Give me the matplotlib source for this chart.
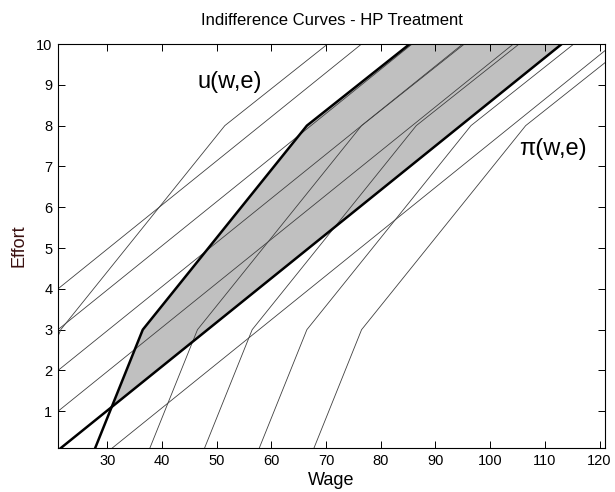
import numpy as np
import matplotlib
matplotlib.use("Agg")
import matplotlib.pyplot as plt

plt.rcParams['font.family'] = ['Liberation Sans', 'DejaVu Sans']

# Kinked indifference curves: wage = offset + cost(effort)
kink_effort = [0.1, 3.0, 8.0, 10.0]
kink_cost = [0.3, 9.0, 39.0, 57.8]
kinked_offsets_thin = [12.5, 37.5, 47.5, 57.5, 67.5]
kinked_offset_thick = 27.5

# Straight indifference curves: wage = intercept + slope * effort
straight_slope = 9.25
straight_intercepts_thin = [-16.0, -6.75, 2.5, 11.75, 30.0]
straight_intercept_thick = 20.6

x_ticks = [30, 40, 50, 60, 70, 80, 90, 100, 110, 120]
y_ticks = [1, 2, 3, 4, 5, 6, 7, 8, 9, 10]

fig = plt.figure(figsize=(6.15, 4.92), dpi=100)
ax = fig.add_axes([58/615, 1-448/492, (605-58)/615, (448-44)/492])

e_k = np.array(kink_effort)
c_k = np.array(kink_cost)
e_line = np.array([0.1, 10.0])

thin_kw = dict(color='#404040', lw=0.6)
thick_kw = dict(color='black', lw=1.8)

# shaded region between the two thick curves above their intersection
e_fine = np.linspace(0.1, 10, 400)
wA = kinked_offset_thick + np.interp(e_fine, e_k, c_k)
wB = straight_intercept_thick + straight_slope * e_fine
mask = wB >= wA
ax.fill_betweenx(e_fine, wA, wB, where=mask, color='#c0c0c0', lw=0, interpolate=True)

for off in kinked_offsets_thin:
    ax.plot(off + c_k, e_k, **thin_kw)
for b in straight_intercepts_thin:
    ax.plot(b + straight_slope * e_line, e_line, **thin_kw)

ax.plot(kinked_offset_thick + c_k, e_k, **thick_kw)
ax.plot(straight_intercept_thick + straight_slope * e_line, e_line, **thick_kw)

ax.set_xlim(21, 121)
ax.set_ylim(0.1, 10)
ax.set_xticks(x_ticks)
ax.set_yticks(y_ticks)
ax.tick_params(direction='in', length=5, top=True, right=True, labelsize=10.5,
               width=0.7, colors='black', pad=4)
for s in ax.spines.values():
    s.set_linewidth(0.8)

ax.set_xlabel('Wage', fontsize=13, labelpad=3)
ax.set_ylabel('Effort', fontsize=13, color='#3a1010', labelpad=6)
ax.set_title('Indifference Curves - HP Treatment', fontsize=12, pad=14)

ax.text(230/615, 1-82/492, 'u(w,e)', transform=fig.transFigure, fontsize=17,
        ha='center', va='center')
ax.text(553/615, 1-149/492, 'π(w,e)', transform=fig.transFigure, fontsize=17,
        ha='center', va='center')

fig.savefig('out.png', dpi=100)
